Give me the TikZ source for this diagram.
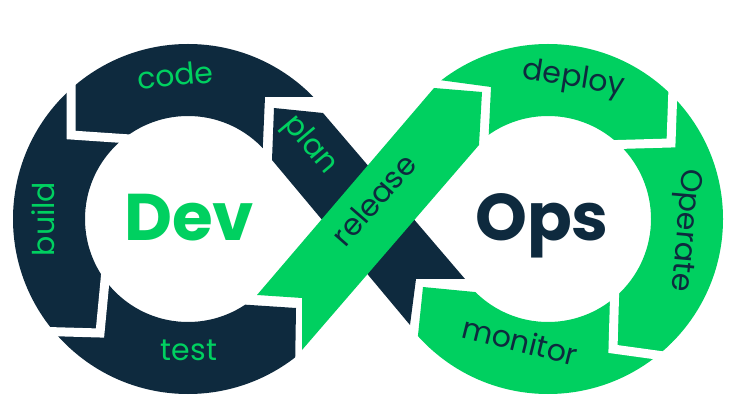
\documentclass[tikz,border=0pt]{standalone}
\usepackage{fontspec}
\setmainfont{Poppins}
\definecolor{devnavy}{RGB}{14,42,62}
\definecolor{devgreen}{RGB}{0,208,96}
\begin{document}
\begin{tikzpicture}[x=1pt,y=-1pt,
  lbl/.style={font=\fontsize{30}{30}\selectfont, anchor=mid, inner sep=0pt},
  big/.style={font=\fontsize{66}{66}\selectfont\bfseries, anchor=base, inner sep=0pt},
  gapline/.style={draw=white, line width=9pt, line join=miter},
  ring/.style={even odd rule}]
\useasboundingbox (0,0) rectangle (738,419);
\fill[white] (0,0) rectangle (738,419);
\coordinate (C1) at (188,219);
\coordinate (C2) at (548,219);
% left ring (Dev)
\begin{scope}
  \clip (-10,-10) -- (500,-10) -- (500,97) -- (265,97) -- (262,165) -- (235,304) -- (296,308) -- (293,500) -- (-10,500) -- cycle;
  \fill[devnavy, ring] (C1) circle[radius=175pt] (C1) circle[radius=103pt];
\end{scope}
\draw[gapline] (71,60) -- (71,135) -- (130,139);
\draw[gapline] (30,331) -- (100,333) -- (106,270);
% right ring (Ops)
\begin{scope}
  \clip (900,-10) -- (380,-10) -- (380,72) -- (491,87) -- (488,150) -- (485,293) -- (423,287) -- (417,345) -- (417,500) -- (900,500) -- cycle;
  \fill[devgreen, ring] (C2) circle[radius=175pt] (C2) circle[radius=103pt];
\end{scope}
\draw[gapline] (674,60) -- (671,143) -- (600,145);
\draw[gapline] (615,280) -- (613,349) -- (700,361);
% bands
\fill[devnavy] (274,108) -- (323,113) -- (465,279) -- (416,279) -- (410,325) -- (272,160) -- cycle;
\fill[devgreen] (434,88) -- (482,92) -- (479,145) -- (302,350) -- (302,298) -- (257,295) -- cycle;
% labels
\node[lbl, text=devgreen, rotate=5] (code) at (176,83) {code};
\node[lbl, text=devgreen, rotate=90] (build) at (52,219) {build};
\node[lbl, text=devgreen] (test) at (189,358) {test};
\node[lbl, text=devgreen, rotate=-50] (plan) at (306,148) {plan};
\node[lbl, text=devnavy, rotate=49] (release) at (380,205) {release};
\node[lbl, text=devnavy, rotate=-9] (deploy) at (573,84) {deploy};
\node[lbl, text=devnavy, rotate=-95] (operate) at (680,230) {Operate};
\node[lbl, text=devnavy, rotate=-14] (monitor) at (518,349) {monitor};
\node[big, text=devgreen] (dev) at (189,241) {Dev};
\node[big, text=devnavy] (ops) at (542,241) {Ops};
\end{tikzpicture}
\end{document}
